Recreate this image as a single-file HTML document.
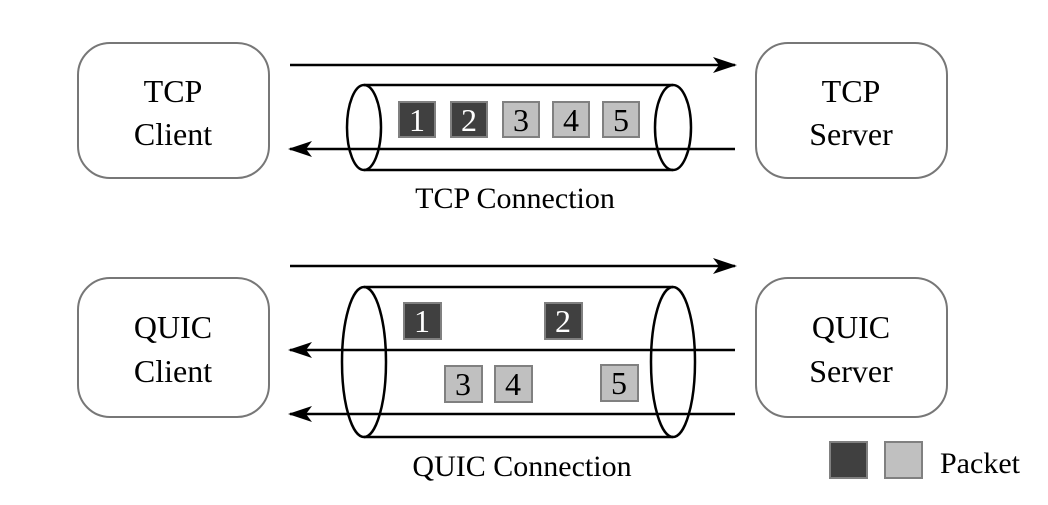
<!DOCTYPE html>
<html><head><style>body{margin:0;background:#fff}svg text{font-family:"Liberation Serif","Times New Roman","DejaVu Serif",serif}</style></head><body>
<svg width="1048" height="500" xmlns="http://www.w3.org/2000/svg">
<defs><marker id="a" markerWidth="24" markerHeight="16" refX="22" refY="8" orient="auto" markerUnits="userSpaceOnUse"><path d="M0,0 L24,8 L0,16 L6,8 Z" fill="#000"/></marker></defs>
<g fill="#fff" stroke="#777" stroke-width="2">
<rect x="78" y="43" width="191" height="135" rx="32"/>
<rect x="756" y="43" width="191" height="135" rx="32"/>
<rect x="78" y="278" width="191" height="139" rx="32"/>
<rect x="756" y="278" width="191" height="139" rx="32"/>
</g>
<g font-size="32" text-anchor="middle" fill="#000">
<text x="173" y="102">TCP</text><text x="173" y="145">Client</text>
<text x="851" y="102">TCP</text><text x="851" y="145">Server</text>
<text x="173" y="338">QUIC</text><text x="851" y="338">QUIC</text>
<text x="173" y="382">Client</text><text x="851" y="382">Server</text>
<text x="515" y="208" font-size="30">TCP Connection</text>
<text x="522" y="476" font-size="30">QUIC Connection</text>
</g>
<g stroke="#000" stroke-width="2.5" fill="none">
<line x1="290" y1="65" x2="735" y2="65" marker-end="url(#a)"/>
<line x1="735" y1="149" x2="290" y2="149" marker-end="url(#a)"/>
<line x1="290" y1="266" x2="735" y2="266" marker-end="url(#a)"/>
<line x1="735" y1="350" x2="290" y2="350" marker-end="url(#a)"/>
<line x1="735" y1="414" x2="290" y2="414" marker-end="url(#a)"/>
<line x1="364" y1="85" x2="673" y2="85"/><line x1="364" y1="170" x2="673" y2="170"/>
<ellipse cx="364" cy="127.5" rx="17" ry="42.5"/><ellipse cx="673" cy="127.5" rx="18" ry="42.5"/>
<line x1="364" y1="287" x2="673" y2="287"/><line x1="364" y1="437" x2="673" y2="437"/>
<ellipse cx="364" cy="362" rx="22" ry="75"/><ellipse cx="673" cy="362" rx="22" ry="75"/>
</g>
<g stroke="#808080" stroke-width="2">
<rect x="399" y="102" width="36" height="35" fill="#404040"/>
<rect x="451" y="102" width="36" height="35" fill="#404040"/>
<rect x="503" y="102" width="36" height="35" fill="#c0c0c0"/>
<rect x="553" y="102" width="36" height="35" fill="#c0c0c0"/>
<rect x="603" y="102" width="36" height="35" fill="#c0c0c0"/>
<rect x="404" y="303" width="37" height="36" fill="#404040"/>
<rect x="545" y="303" width="37" height="36" fill="#404040"/>
<rect x="445" y="366" width="37" height="36" fill="#c0c0c0"/>
<rect x="495" y="366" width="37" height="36" fill="#c0c0c0"/>
<rect x="601" y="365" width="37" height="36" fill="#c0c0c0"/>
<rect x="830" y="442" width="37" height="36" fill="#404040"/>
<rect x="885" y="442" width="37" height="36" fill="#c0c0c0"/>
</g>
<g font-size="32" text-anchor="middle">
<text x="417" y="131" fill="#fff">1</text><text x="469" y="131" fill="#fff">2</text>
<text x="521" y="131">3</text><text x="571" y="131">4</text><text x="621" y="131">5</text>
<text x="422" y="332" fill="#fff">1</text><text x="563" y="332" fill="#fff">2</text>
<text x="463" y="395">3</text><text x="513" y="395">4</text><text x="619" y="394">5</text>
<text x="940" y="473" font-size="30" text-anchor="start">Packet</text>
</g>
</svg>
</body></html>
